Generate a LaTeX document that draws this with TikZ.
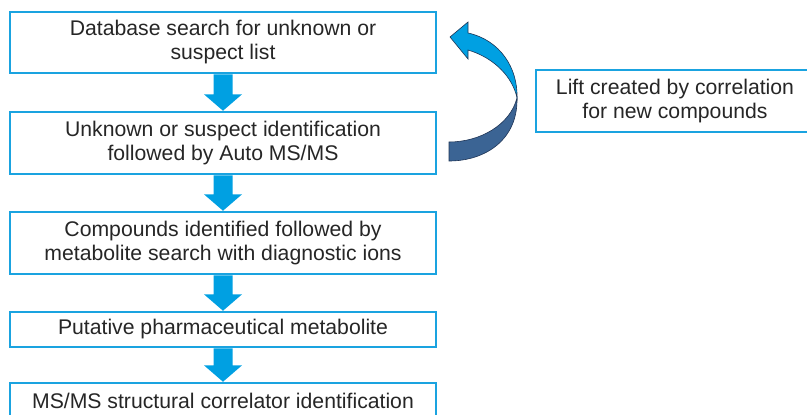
\documentclass[tikz,border=0pt]{standalone}
\usepackage{fontspec}
\setmainfont{Liberation Sans}
\usetikzlibrary{calc}
\definecolor{boxblue}{HTML}{1AA3E0}
\definecolor{arrowblue}{HTML}{00A0E2}
\definecolor{darkarrow}{HTML}{3B6494}
\definecolor{outlinec}{HTML}{1F3556}
\definecolor{txt}{HTML}{262626}
\newcommand\blockarrow[2]{\fill[arrowblue] let \p1=(#1.south), \p2=(#2.north) in
  (\x1-9.5pt,\y1-0.7pt) -- (\x1+9.5pt,\y1-0.7pt) -- (\x1+9.5pt,\y2+17pt) -- (\x1+19pt,\y2+17pt)
  -- (\x1,\y2+0.6pt) -- (\x1-19pt,\y2+17pt) -- (\x1-9.5pt,\y2+17pt) -- cycle;}
\begin{document}
\begin{tikzpicture}[x=1pt,y=-1pt,
 box/.style={draw=boxblue,line width=1.3pt,fill=white,text=txt,font=\fontsize{21.2}{24}\selectfont,align=center,inner sep=0pt,minimum width=426pt},
 ]
\useasboundingbox (0,0) rectangle (807,415);
\clip (0,0) rectangle (807,415);
\node[box,minimum height=61pt] (b1) at (223,42.5) {Database search for unknown or\\suspect list};
\node[box,minimum height=62pt] (b2) at (223,143) {Unknown or suspect identification\\followed by Auto MS/MS};
\node[box,minimum height=62pt] (b3) at (223,243) {Compounds identified followed by\\metabolite search with diagnostic ions};
\node[box,minimum height=35pt] (b4) at (223,329.5) {Putative pharmaceutical metabolite};
\node[box,minimum height=36pt] (b5) at (223,401) {MS/MS structural correlator identification};
\node[box,minimum width=278pt,minimum height=62pt] (lift) at (675,101) {Lift created by correlation\\for new compounds};
\blockarrow{b1}{b2}
\blockarrow{b2}{b3}
\blockarrow{b3}{b4}
\blockarrow{b4}{b5}
% curved arrow
\filldraw[fill=darkarrow,draw=outlinec,line width=0.6pt]
  (517,98) .. controls (518,140) and (485,161) .. (449,161)
  -- (449,142) .. controls (480,142) and (510,125) .. (517,98) -- cycle;
\filldraw[fill=arrowblue,draw=outlinec,line width=0.6pt]
  (468,50) -- (468,59) -- (450,37) -- (468,22) -- (468,33)
  .. controls (500,40) and (518,68) .. (517,98)
  .. controls (513,78) and (495,58) .. (468,50) -- cycle;
\end{tikzpicture}
\end{document}
